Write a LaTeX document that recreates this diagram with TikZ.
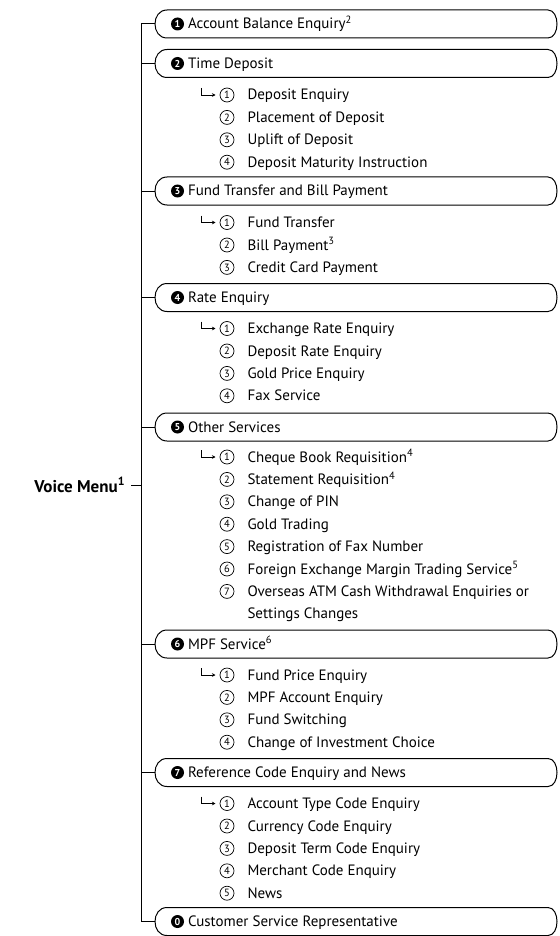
\documentclass[tikz,border=0pt]{standalone}
\usepackage{fontspec}
\setmainfont{PT Sans}
\usetikzlibrary{arrows.meta}
\newcommand{\itemsize}{\fontsize{15}{18}\selectfont}

\begin{document}
\begin{tikzpicture}[x=1pt,y=-1pt,line width=1pt,
  menubox/.style={anchor=west,minimum width=401pt,minimum height=27pt,inner sep=0pt},
  darknum/.style={circle,fill=black,text=white,inner sep=0pt,minimum size=13pt,font=\fontsize{10}{10}\selectfont\bfseries},
  ringnum/.style={circle,draw,line width=0.7pt,inner sep=0pt,minimum size=14pt,font=\fontsize{10.5}{10.5}\selectfont},
  entry/.style={anchor=base west,inner sep=0pt,font=\itemsize},
  hookarrow/.style={line width=0.7pt,-{Stealth[length=3.5pt,width=3.5pt]}}]
  \useasboundingbox (0,0) rectangle (559,936);
  \coordinate (trunk) at (141,0);
  % root
  \node[anchor=east,inner sep=0pt,outer xsep=6pt,font=\fontsize{17}{20}\selectfont\bfseries] (voice) at (131,485) {Voice Menu\textsuperscript{1}};
  % main menu boxes
  \foreach \b/\y in {1/24,2/63.5,3/191,4/297.5,5/427,6/644,7/772.5,0/921.5}
    \node[menubox] (m\b) at (155,\y) {};
  \foreach \b in {1,2,3,4,5,6,7,0}
    \draw ([xshift=12pt]m\b.north west) -- ([xshift=-9pt]m\b.north east)
      .. controls ([xshift=3pt]m\b.north east) and ([xshift=3pt]m\b.south east) .. ([xshift=-9pt]m\b.south east)
      -- ([xshift=12pt]m\b.south west)
      .. controls ([xshift=-4pt]m\b.south west) and ([xshift=-4pt]m\b.north west) .. cycle;
  \foreach \b/\txt in {1/Account Balance Enquiry\textsuperscript{2},2/Time Deposit,
      3/Fund Transfer and Bill Payment,4/Rate Enquiry,5/Other Services,
      6/MPF Service\textsuperscript{6},7/Reference Code Enquiry and News,
      0/Customer Service Representative} {
    \node[darknum] (d\b) at ([xshift=22.5pt]m\b.west) {\b};
    \node[entry] (t\b) at ([xshift=32.5pt,yshift=-5pt]m\b.west) {\txt};
  }
  % trunk and stubs
  \draw (m1.west) -- (m1.west -| trunk) -- (m0.west -| trunk) -- (m0.west);
  \foreach \b in {2,3,4,5,6,7}
    \draw (m\b.west -| trunk) -- (m\b.west);
  \draw (voice.east) -- (voice.east -| trunk);
  % sub menus
  \foreach \k/\y/\txt in {1/95/Deposit Enquiry,2/117.4/Placement of Deposit,
      3/139.8/Uplift of Deposit,4/162.2/Deposit Maturity Instruction} {
    \node[ringnum] (r2\k) at (227,\y) {\k};
    \node[entry] (i2\k) at (247,\y+5) {\txt};
  }
  \foreach \k/\y/\txt in {1/222.5/Fund Transfer,2/245/Bill Payment\textsuperscript{3},
      3/267.4/Credit Card Payment} {
    \node[ringnum] (r3\k) at (227,\y) {\k};
    \node[entry] (i3\k) at (247,\y+5) {\txt};
  }
  \foreach \k/\y/\txt in {1/328.5/Exchange Rate Enquiry,2/351/Deposit Rate Enquiry,
      3/373.4/Gold Price Enquiry,4/395.8/Fax Service} {
    \node[ringnum] (r4\k) at (227,\y) {\k};
    \node[entry] (i4\k) at (247,\y+5) {\txt};
  }
  \foreach \k/\y/\txt in {1/457/Cheque Book Requisition\textsuperscript{4},
      2/479.4/Statement Requisition\textsuperscript{4},3/501.8/Change of PIN,
      4/524.2/Gold Trading,5/546.6/Registration of Fax Number,
      6/569/Foreign Exchange Margin Trading Service\textsuperscript{5},
      7/591.4/Overseas ATM Cash Withdrawal Enquiries or} {
    \node[ringnum] (r5\k) at (227,\y) {\k};
    \node[entry] (i5\k) at (247,\y+5) {\txt};
  }
  \node[entry] (i57b) at (247,618.8) {Settings Changes};
  \foreach \k/\y/\txt in {1/675/Fund Price Enquiry,2/697.4/MPF Account Enquiry,
      3/719.8/Fund Switching,4/742.2/Change of Investment Choice} {
    \node[ringnum] (r6\k) at (227,\y) {\k};
    \node[entry] (i6\k) at (247,\y+5) {\txt};
  }
  \foreach \k/\y/\txt in {1/803.5/Account Type Code Enquiry,2/826/Currency Code Enquiry,
      3/848.4/Deposit Term Code Enquiry,4/870.8/Merchant Code Enquiry,5/893.2/News} {
    \node[ringnum] (r7\k) at (227,\y) {\k};
    \node[entry] (i7\k) at (247,\y+5) {\txt};
  }
  % hook arrows into the first sub item
  \foreach \g in {2,3,4,5,6,7}
    \draw[hookarrow] ([xshift=-26pt,yshift=7pt]r\g1.center) |- ([xshift=-11.5pt]r\g1.center);
\end{tikzpicture}
\end{document}
